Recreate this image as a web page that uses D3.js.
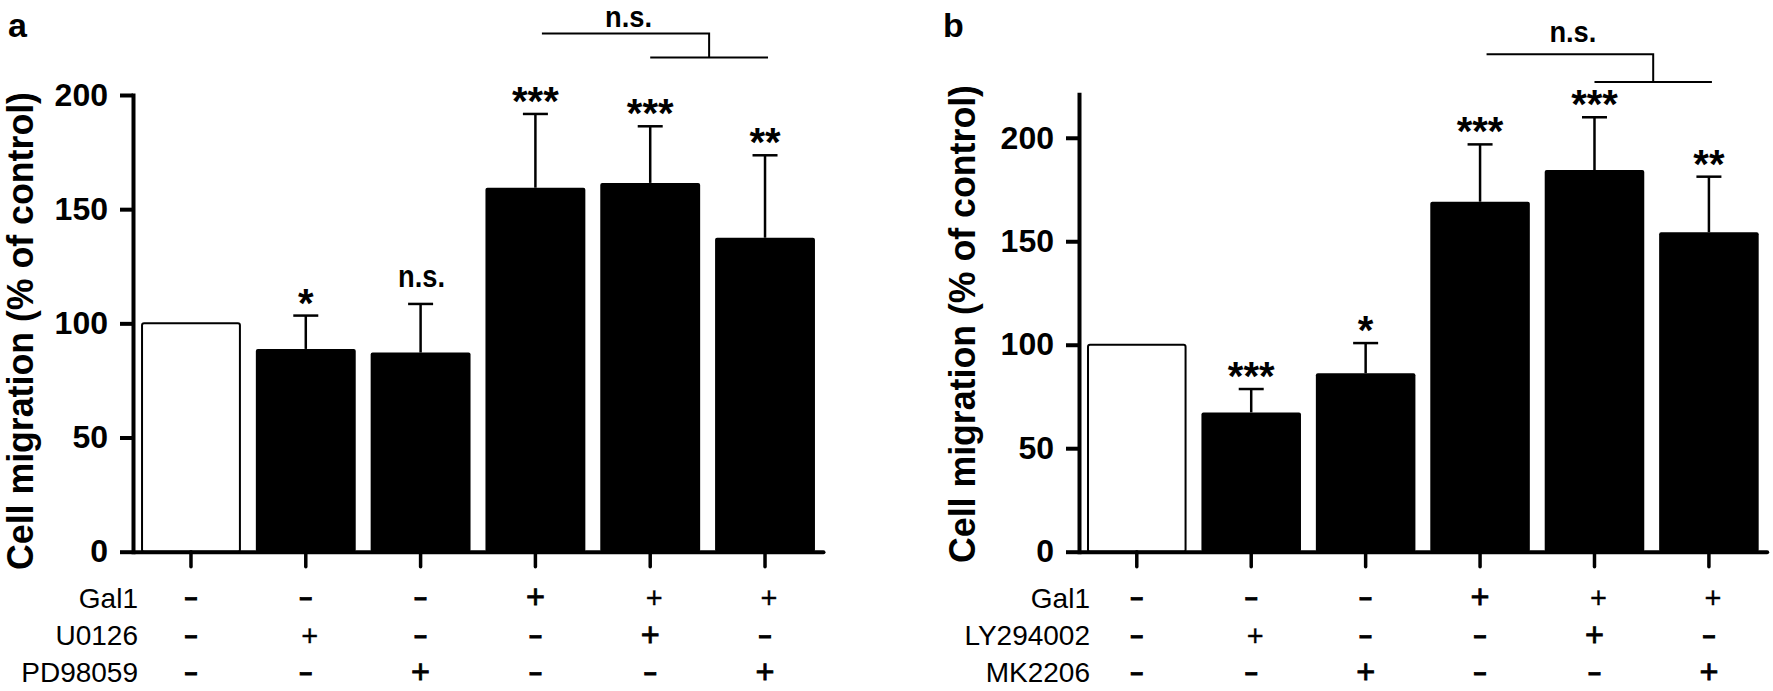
<!DOCTYPE html>
<html><head><meta charset="utf-8">
<script src="https://cdn.jsdelivr.net/npm/d3@7"></script>
<style>
html,body{margin:0;padding:0;background:#fff;}
svg{display:block;font-family:"Liberation Sans",Arial,Helvetica,sans-serif;}
</style>
</head><body>
<svg id="chart" width="1773" height="691"></svg>
<script>
// ---------- data ----------
const categoriesA = ["Control", "U0126", "PD98059", "Gal1", "Gal1+U0126", "Gal1+PD98059"];
const valuesA = [100, 88.8, 87.2, 159.4, 161.5, 137.5];
const errorsA = [0, 14.6, 21.3, 32.3, 24.8, 36.1];
const sigA = ["", "*", "n.s.", "***", "***", "**"];
const rowLabelsA = ["Gal1", "U0126", "PD98059"];
const signsA = [
  ["-", "-", "-", "+", "+", "+"],
  ["-", "+", "-", "-", "+", "-"],
  ["-", "-", "+", "-", "-", "+"]
];

const categoriesB = ["Control", "LY294002", "MK2206", "Gal1", "Gal1+LY294002", "Gal1+MK2206"];
const valuesB = [100, 67.3, 86.2, 169.1, 184.4, 154.3];
const errorsB = [0, 11.3, 14.6, 27.7, 25.5, 26.9];
const sigB = ["", "***", "*", "***", "***", "**"];
const rowLabelsB = ["Gal1", "LY294002", "MK2206"];
const signsB = [
  ["-", "-", "-", "+", "+", "+"],
  ["-", "+", "-", "-", "+", "-"],
  ["-", "-", "+", "-", "-", "+"]
];

const yTicks = [0, 50, 100, 150, 200];
const bracketLabel = "n.s.";
// bracket: group 3 vs groups 4 & 5 (levels in data units)
const bracketLevelsA = [226.9, 216.4];
const bracketLevelsB = [240.4, 227];

// ---------- drawing ----------
const svg = d3.select("#chart");
const smallPlus = new Set(["0-4", "0-5", "1-1"]);

function drawPanel(o) {
  const g = svg.append("g");
  const x = d3.scaleBand().domain(o.categories).range([o.x0, o.x1])
    .paddingInner(0.13).paddingOuter(0.07);
  const y = d3.scaleLinear().domain([0, o.yMax]).range([551.7, o.yTop]);

  // bars
  g.selectAll("rect.bar").data(o.values).join("rect")
    .attr("class", "bar")
    .attr("x", (d, i) => x(o.categories[i]) + (i === 0 ? 1 : 0))
    .attr("width", (d, i) => x.bandwidth() - (i === 0 ? 2 : 0))
    .attr("y", d => y(d))
    .attr("height", d => y(0) - y(d))
    .attr("rx", 2)
    .attr("fill", (d, i) => i === 0 ? "#fff" : "#000")
    .attr("stroke", "#000")
    .attr("stroke-width", (d, i) => i === 0 ? 2 : 0);

  // error bars
  o.values.forEach((v, i) => {
    if (!o.errors[i]) return;
    const cx = x(o.categories[i]) + x.bandwidth() / 2;
    const top = y(v + o.errors[i]);
    g.append("line").attr("x1", cx).attr("x2", cx).attr("y1", y(v)).attr("y2", top)
      .attr("stroke", "#000").attr("stroke-width", 2.5);
    g.append("line").attr("x1", cx - 12.5).attr("x2", cx + 12.5).attr("y1", top).attr("y2", top)
      .attr("stroke", "#000").attr("stroke-width", 2.5);
    const s = o.sig[i];
    if (s) {
      const isNs = s === "n.s.";
      const t = g.append("text").attr("x", cx + (isNs ? 1 : 0))
        .attr("y", isNs ? top - 17 : top + 1)
        .attr("text-anchor", "middle")
        .attr("font-weight", "bold")
        .attr("font-size", isNs ? 31 : 40)
        .text(s);
      if (isNs) t.attr("textLength", 47).attr("lengthAdjust", "spacingAndGlyphs");
    }
  });

  // y axis
  const ya = g.append("g").attr("transform", `translate(${o.x0},0)`)
    .call(d3.axisLeft(y).tickValues(yTicks).tickSize(13).tickSizeOuter(0).tickPadding(12));
  ya.select(".domain").attr("stroke-width", 4).attr("stroke-linecap", "square");
  ya.selectAll(".tick line").attr("stroke-width", 4);
  ya.selectAll(".tick text").attr("font-size", 32).attr("font-weight", "bold")
    .attr("font-family", "'Liberation Sans', Arial, sans-serif").attr("fill", "#000");

  // x axis
  const xa = g.append("g").attr("transform", `translate(0,${y(0)})`)
    .call(d3.axisBottom(x).tickSize(15).tickSizeOuter(0).tickFormat(""));
  xa.select(".domain").attr("stroke-width", 4).attr("stroke-linecap", "round");
  xa.selectAll(".tick line").attr("stroke-width", 3.5).attr("stroke-linecap", "round");

  // y title
  g.append("text")
    .attr("transform", `translate(${o.titleX},${o.titleY}) rotate(-90)`)
    .attr("text-anchor", "middle")
    .attr("font-weight", "bold").attr("font-size", 36)
    .attr("textLength", 478).attr("lengthAdjust", "spacingAndGlyphs")
    .text("Cell migration (% of control)");

  // panel letter
  g.append("text").attr("x", o.letterX).attr("y", 37)
    .attr("font-weight", "bold").attr("font-size", 34).text(o.letter);

  // treatment table
  const rowBase = [608, 646, 683];
  const labBase = [608, 645, 682];
  o.rowLabels.forEach((lab, r) => {
    g.append("text").attr("x", o.x0 + o.labelOff).attr("y", labBase[r])
      .attr("text-anchor", "end").attr("font-size", 28).text(lab);
    o.signs[r].forEach((s, i) => {
      const cx = x(o.categories[i]) + x.bandwidth() / 2;
      const small = s === "+" && smallPlus.has(r + "-" + i);
      const t = g.append("text").attr("x", cx + (small ? 4 : 0)).attr("y", rowBase[r])
        .attr("text-anchor", "middle")
        .attr("font-size", small ? 29 : 32.5)
        .attr("stroke", "#000").attr("stroke-width", small ? 0.3 : 0.8)
        .text(s);
      if (s === "-") t.attr("textLength", 15).attr("lengthAdjust", "spacingAndGlyphs");
    });
  });

  // significance bracket
  const c3 = x(o.categories[3]) + x.bandwidth() / 2;
  const c4 = x(o.categories[4]) + x.bandwidth() / 2;
  const c5 = x(o.categories[5]) + x.bandwidth() / 2;
  const yU = y(o.bracket[0]), yL = y(o.bracket[1]);
  const lx0 = c4, lx1 = c5 + 3, mid = (lx0 + lx1) / 2;
  const ux0 = c3 + 6.5;
  g.append("path")
    .attr("d", `M${ux0},${yU}H${mid}V${yL}M${lx0},${yL}H${lx1}`)
    .attr("fill", "none").attr("stroke", "#000").attr("stroke-width", 2);
  const nsY = Math.max(yU - 12, 27);
  g.append("text").attr("x", (ux0 + mid) / 2 + 3).attr("y", nsY)
    .attr("text-anchor", "middle").attr("font-weight", "bold").attr("font-size", 29.5)
    .attr("textLength", 47).attr("lengthAdjust", "spacingAndGlyphs")
    .text(bracketLabel);
}

drawPanel({
  categories: categoriesA, values: valuesA, errors: errorsA, sig: sigA,
  rowLabels: rowLabelsA, signs: signsA, bracket: bracketLevelsA,
  x0: 133, x1: 823, yMax: 200, yTop: 95, titleX: 33, titleY: 331,
  letter: "a", letterX: 8, labelOff: 5
});
drawPanel({
  categories: categoriesB, values: valuesB, errors: errorsB, sig: sigB,
  rowLabels: rowLabelsB, signs: signsB, bracket: bracketLevelsB,
  x0: 1079, x1: 1766.7, yMax: 221, yTop: 94.3, titleX: 975, titleY: 324,
  letter: "b", letterX: 943, labelOff: 11
});
</script>
</body></html>
